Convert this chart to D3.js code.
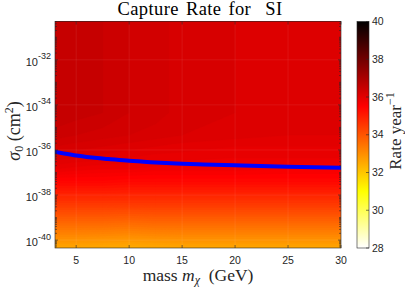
<!DOCTYPE html>
<html>
<head>
<meta charset="UTF-8" />
<title>Capture Rate for SI</title>
<style>
  body { margin: 0; background: #fff; }
  .serif { font-family: "Liberation Serif", "DejaVu Serif", serif; fill: #262626; }
  .sans { font-family: "Liberation Sans", Arial, Helvetica, sans-serif; font-size: 10.5px; fill: #262626; }
</style>
<script src="https://d3js.org/d3.v7.min.js"></script>
</head>
<body>
<svg id="viz" width="405" height="290"></svg>
<script>
// dark matter mass grid (GeV) and log10 of cross section grid (cm^2)
var masses = [3, 5, 7.5, 10, 12.5, 15, 20, 25, 30];
var logSigma = [-40.35, -39.35, -38.35, -37.35, -36.85, -36.35, -35.85, -35.35, -34.35, -32.35, -30.3];
// log10 capture rate (per year), one row per logSigma value
var rate = [
  [32.6, 32.6, 32.55, 32.5, 32.55, 32.6, 32.6, 32.6, 32.6],
  [33.6, 33.6, 33.6, 33.55, 33.6, 33.6, 33.6, 33.6, 33.6],
  [34.6, 34.6, 34.6, 34.6, 34.6, 34.6, 34.6, 34.6, 34.6],
  [35.5, 35.5, 35.5, 35.45, 35.45, 35.45, 35.45, 35.45, 35.45],
  [35.9, 35.85, 35.8, 35.8, 35.75, 35.75, 35.75, 35.7, 35.7],
  [36.15, 36.1, 36.05, 36.0, 35.95, 35.95, 35.9, 35.9, 35.9],
  [36.3, 36.25, 36.2, 36.15, 36.1, 36.05, 36.0, 36.0, 36.0],
  [36.45, 36.4, 36.35, 36.3, 36.25, 36.2, 36.15, 36.1, 36.1],
  [36.6, 36.55, 36.5, 36.4, 36.35, 36.25, 36.2, 36.15, 36.15],
  [36.6, 36.55, 36.5, 36.4, 36.35, 36.25, 36.2, 36.15, 36.15],
  [36.6, 36.55, 36.5, 36.4, 36.35, 36.25, 36.2, 36.15, 36.15]
];
// blue limit curve
var limitMass = [3, 4, 5, 6, 7, 8, 10, 12, 14, 17, 20, 25, 30];
var limitLogSigma = [-36.08, -36.17, -36.25, -36.31, -36.36, -36.40, -36.48, -36.54, -36.59, -36.64, -36.68, -36.74, -36.79];

var xTicks = [5, 10, 15, 20, 25, 30];
var yTickExp = [-40, -38, -36, -34, -32];
var cbTicks = [28, 30, 32, 34, 36, 38, 40];

var svg = d3.select("#viz");
var pL = 55, pR = 341, pT = 21.5, pB = 248;
var cbL = 357, cbR = 369;

var x = d3.scaleLinear().domain([3, 30]).range([pL, pR]);
var y = d3.scaleLog().domain([Math.pow(10, -40.35), Math.pow(10, -30.3)]).range([pB, pT]);
// flipped "hot" colormap
var color = d3.scaleLinear().domain([28, 31, 35.5, 40])
  .range(["#ffffff", "#ffff00", "#ff0000", "#000000"]).clamp(true);

// contour grid index -> data value
var xIdx = d3.scaleLinear().domain(masses.map((d, i) => i + 0.5)).range(masses);
var yIdx = d3.scaleLinear().domain(logSigma.map((d, j) => j + 0.5)).range(logSigma);

var nx = masses.length, ny = logSigma.length;
var values = [];
rate.forEach(row => row.forEach(v => values.push(v)));
var levels = d3.range(28, 40.001, 0.1);
var contours = d3.contours().size([nx, ny]).thresholds(levels)(values);

var proj = d3.geoTransform({
  point: function (px, py) {
    this.stream.point(x(xIdx(px)), y(Math.pow(10, yIdx(py))));
  }
});
var path = d3.geoPath(proj);

svg.append("clipPath").attr("id", "clip")
  .append("rect").attr("x", pL).attr("y", pT)
  .attr("width", pR - pL).attr("height", pB - pT);

var plot = svg.append("g").attr("clip-path", "url(#clip)");
plot.selectAll("path.band").data(contours).enter().append("path")
  .attr("class", "band")
  .attr("d", path)
  .attr("fill", d => color(d.value))
  .attr("stroke", d => color(d.value))
  .attr("stroke-width", 0.3);

// faint grid
plot.selectAll("line.gx").data(xTicks).enter().append("line")
  .attr("x1", d => x(d)).attr("x2", d => x(d)).attr("y1", pT).attr("y2", pB)
  .attr("stroke", "#fff").attr("stroke-opacity", 0.12).attr("stroke-width", 0.6);
plot.selectAll("line.gy").data(yTickExp).enter().append("line")
  .attr("y1", d => y(Math.pow(10, d))).attr("y2", d => y(Math.pow(10, d)))
  .attr("x1", pL).attr("x2", pR)
  .attr("stroke", "#fff").attr("stroke-opacity", 0.12).attr("stroke-width", 0.6);

// limit line
var line = d3.line()
  .x((d, i) => x(limitMass[i]))
  .y(d => y(Math.pow(10, d)))
  .curve(d3.curveMonotoneX);
plot.append("path").attr("d", line(limitLogSigma))
  .attr("fill", "none").attr("stroke", "#0000ff").attr("stroke-width", 4);

// axes box and ticks
var axc = "#262626";
var g = svg.append("g").attr("stroke", axc).attr("stroke-width", 0.6);
g.append("rect").attr("x", pL).attr("y", pT).attr("width", pR - pL)
  .attr("height", pB - pT).attr("fill", "none");
xTicks.forEach(function (t) {
  g.append("line").attr("x1", x(t)).attr("x2", x(t)).attr("y1", pB).attr("y2", pB - 3);
  g.append("line").attr("x1", x(t)).attr("x2", x(t)).attr("y1", pT).attr("y2", pT + 3);
});
var yMinor = [];
for (var n = -41; n <= -30; n++) {
  for (var k = 1; k <= 9; k++) {
    var v = k * Math.pow(10, n);
    if (v < y.domain()[0] || v > y.domain()[1]) continue;
    if (k === 1 && n % 2 === 0) continue;
    yMinor.push(v);
  }
}
yMinor.forEach(function (v) {
  g.append("line").attr("x1", pL).attr("x2", pL + 2).attr("y1", y(v)).attr("y2", y(v));
  g.append("line").attr("x1", pR).attr("x2", pR - 2).attr("y1", y(v)).attr("y2", y(v));
});
yTickExp.forEach(function (e) {
  var yy = y(Math.pow(10, e));
  g.append("line").attr("x1", pL).attr("x2", pL + 3).attr("y1", yy).attr("y2", yy);
  g.append("line").attr("x1", pR).attr("x2", pR - 3).attr("y1", yy).attr("y2", yy);
});

// tick labels
svg.selectAll("text.xt").data(xTicks).enter().append("text")
  .attr("class", "sans").attr("x", d => x(d)).attr("y", 264)
  .attr("text-anchor", "middle").text(d => d);
yTickExp.forEach(function (e) {
  var yy = y(Math.pow(10, e));
  var t = svg.append("text").attr("class", "sans").attr("text-anchor", "end")
    .attr("x", 51).attr("y", yy + 6).style("font-size", "11px");
  t.append("tspan").text("10");
  t.append("tspan").attr("dy", -6.5).style("font-size", "9px").text(e);
});

// labels
svg.append("text").attr("class", "serif").attr("x", 200).attr("y", 15)
  .attr("text-anchor", "middle").style("font-size", "18.5px").style("fill", "#000")
  .style("white-space", "pre").style("letter-spacing", "0.4px").style("word-spacing", "2px")
  .text("Capture Rate for  SI");

var xl = svg.append("text").attr("class", "serif").attr("x", 198).attr("y", 281)
  .attr("text-anchor", "middle").style("font-size", "17.5px").style("white-space", "pre");
xl.append("tspan").text("mass ");
xl.append("tspan").style("font-style", "italic").text("m");
xl.append("tspan").style("font-style", "italic").style("font-size", "12px").attr("dy", 3).text("χ");
xl.append("tspan").attr("dy", -3).text("  (GeV)");

var yl = svg.append("text").attr("class", "serif")
  .attr("transform", "translate(20,131) rotate(-90)")
  .attr("text-anchor", "middle").style("font-size", "18px").style("white-space", "pre");
yl.append("tspan").style("font-style", "italic").text("σ");
yl.append("tspan").style("font-size", "12px").attr("dy", 3).text("0");
yl.append("tspan").attr("dy", -3).text(" (cm");
yl.append("tspan").style("font-size", "12px").attr("dy", -7).text("2");
yl.append("tspan").attr("dy", 7).text(")");

// colorbar
var cy = d3.scaleLinear().domain([28, 40]).range([pB, pT]);
var grad = svg.append("defs").append("linearGradient").attr("id", "cb")
  .attr("x1", 0).attr("y1", 1).attr("x2", 0).attr("y2", 0);
color.domain().forEach(function (v) {
  grad.append("stop").attr("offset", (v - 28) / 12).attr("stop-color", color(v));
});
svg.append("rect").attr("x", cbL).attr("y", pT).attr("width", cbR - cbL)
  .attr("height", pB - pT).attr("fill", "url(#cb)")
  .attr("stroke", axc).attr("stroke-width", 0.6);
cbTicks.forEach(function (t) {
  svg.append("line").attr("x1", cbR - 3).attr("x2", cbR)
    .attr("y1", cy(t)).attr("y2", cy(t)).attr("stroke", axc).attr("stroke-width", 0.6);
  svg.append("text").attr("class", "sans").attr("x", 372).attr("y", cy(t) + 3.5).text(t);
});
var cl = svg.append("text").attr("class", "serif")
  .attr("transform", "translate(401,131) rotate(-90)")
  .attr("text-anchor", "middle").style("font-size", "17px").style("white-space", "pre");
cl.append("tspan").text("Rate year");
cl.append("tspan").style("font-size", "12px").attr("dy", -7).text("−1");
</script>
</body>
</html>
